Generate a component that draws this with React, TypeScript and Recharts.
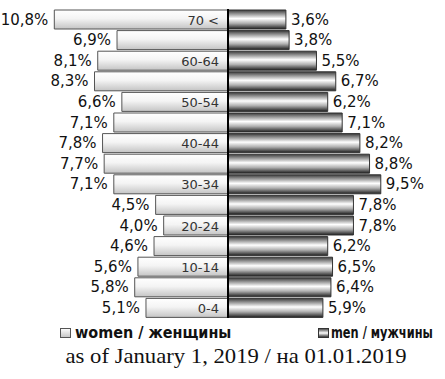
import React from 'react';
import { BarChart, Bar, XAxis, YAxis, LabelList, ReferenceLine } from 'recharts';

const ageGroups = ['0-4', '5-9', '10-14', '15-19', '20-24', '25-29', '30-34', '35-39', '40-44', '45-49', '50-54', '55-59', '60-64', '65-69', '70 <'];
const women = [5.1, 5.8, 5.6, 4.6, 4.0, 4.5, 7.1, 7.7, 7.8, 7.1, 6.6, 8.3, 8.1, 6.9, 10.8];
const men = [5.9, 6.4, 6.5, 6.2, 7.8, 7.8, 9.5, 8.8, 8.2, 7.1, 6.2, 6.7, 5.5, 3.8, 3.6];
const shownAges = ['0-4', '10-14', '20-24', '30-34', '40-44', '50-54', '60-64', '70 <'];
const seriesNames = ['women / женщины', 'men / мужчины'];
const caption = 'as of January 1, 2019 / на 01.01.2019';

// top row is the oldest group
const chartData = ageGroups
  .map((age, i) => ({ age, women: -women[i], men: men[i] }))
  .reverse();

const fmt = (v: number) => Math.abs(v).toFixed(1).replace('.', ',') + '%';
const labelFont = 'DejaVu Sans, Verdana, sans-serif';

const WomenValue = (props: any) => {
  const { x, y, width, height, value } = props;
  const left = Math.min(x, x + width);
  return (
    <text x={left - 6} y={y + height / 2} dy={5} textAnchor="end" fontSize={15} fontFamily={labelFont} fill="#111">
      {fmt(value)}
    </text>
  );
};

const AgeLabel = (props: any) => {
  const { x, y, width, height, value } = props;
  if (!shownAges.includes(value)) return null;
  const right = Math.max(x, x + width);
  return (
    <text x={right - 9} y={y + height / 2} dy={5} textAnchor="end" fontSize={13} fontFamily={labelFont} fill="#333">
      {value}
    </text>
  );
};

const MenValue = (props: any) => {
  const { x, y, width, height, value } = props;
  const right = Math.max(x, x + width);
  return (
    <text x={right + 5} y={y + height / 2} dy={5} textAnchor="start" fontSize={15} fontFamily={labelFont} fill="#111">
      {fmt(value)}
    </text>
  );
};

export default function App() {
  return (
    <div style={{ position: 'absolute', left: 0, top: 0, width: 445, height: 379, background: '#fff' }}>
      <BarChart
        width={445}
        height={379}
        data={chartData}
        layout="vertical"
        stackOffset="sign"
        barCategoryGap={1}
        margin={{ top: 9, right: 24, bottom: 61, left: 35 }}
      >
        <defs>
          <linearGradient id="gWomen" x1="0" y1="0" x2="0" y2="1">
            <stop offset="0%" stopColor="#ffffff" />
            <stop offset="45%" stopColor="#f4f4f4" />
            <stop offset="100%" stopColor="#c4c4c4" />
          </linearGradient>
          <linearGradient id="gMen" x1="0" y1="0" x2="0" y2="1">
            <stop offset="0%" stopColor="#3a3a3a" />
            <stop offset="18%" stopColor="#8a8a8a" />
            <stop offset="45%" stopColor="#ffffff" />
            <stop offset="70%" stopColor="#b0b0b0" />
            <stop offset="100%" stopColor="#1e1e1e" />
          </linearGradient>
        </defs>
        <XAxis type="number" domain={[-12, 12]} hide />
        <YAxis type="category" dataKey="age" hide />
        <Bar dataKey="women" stackId="p" fill="url(#gWomen)" stroke="#555" strokeWidth={1} isAnimationActive={false}>
          <LabelList dataKey="women" content={WomenValue} />
          <LabelList dataKey="age" content={AgeLabel} />
        </Bar>
        <Bar dataKey="men" stackId="p" fill="url(#gMen)" stroke="#333" strokeWidth={1} isAnimationActive={false}>
          <LabelList dataKey="men" content={MenValue} />
        </Bar>
        <ReferenceLine x={0} stroke="#000" strokeWidth={2} />
      </BarChart>

      {/* legend + caption */}
      <svg width={445} height={60} style={{ position: 'absolute', left: 0, top: 319 }}>
        <defs>
          <linearGradient id="lgWomen" x1="0" y1="0" x2="0" y2="1">
            <stop offset="0%" stopColor="#ffffff" />
            <stop offset="100%" stopColor="#c4c4c4" />
          </linearGradient>
          <linearGradient id="lgMen" x1="0" y1="0" x2="0" y2="1">
            <stop offset="0%" stopColor="#3a3a3a" />
            <stop offset="50%" stopColor="#ffffff" />
            <stop offset="100%" stopColor="#1e1e1e" />
          </linearGradient>
        </defs>
        <rect x={60.5} y={9.5} width={10} height={9} fill="url(#lgWomen)" stroke="#555" />
        <text transform="translate(75,19) scale(0.96,1)" fontSize={15} fontWeight="bold" fontFamily={labelFont} fill="#111">
          {seriesNames[0]}
        </text>
        <rect x={318.5} y={9.5} width={10} height={9} fill="url(#lgMen)" stroke="#333" />
        <text transform="translate(331,19) scale(0.76,1)" fontSize={15} fontWeight="bold" fontFamily={labelFont} fill="#111">
          {seriesNames[1]}
        </text>
        <text x={236} y={44} textAnchor="middle" fontSize={22} fontFamily='"Liberation Serif", "Times New Roman", serif' fill="#111" textLength={341} lengthAdjust="spacingAndGlyphs">
          {caption}
        </text>
      </svg>
    </div>
  );
}
